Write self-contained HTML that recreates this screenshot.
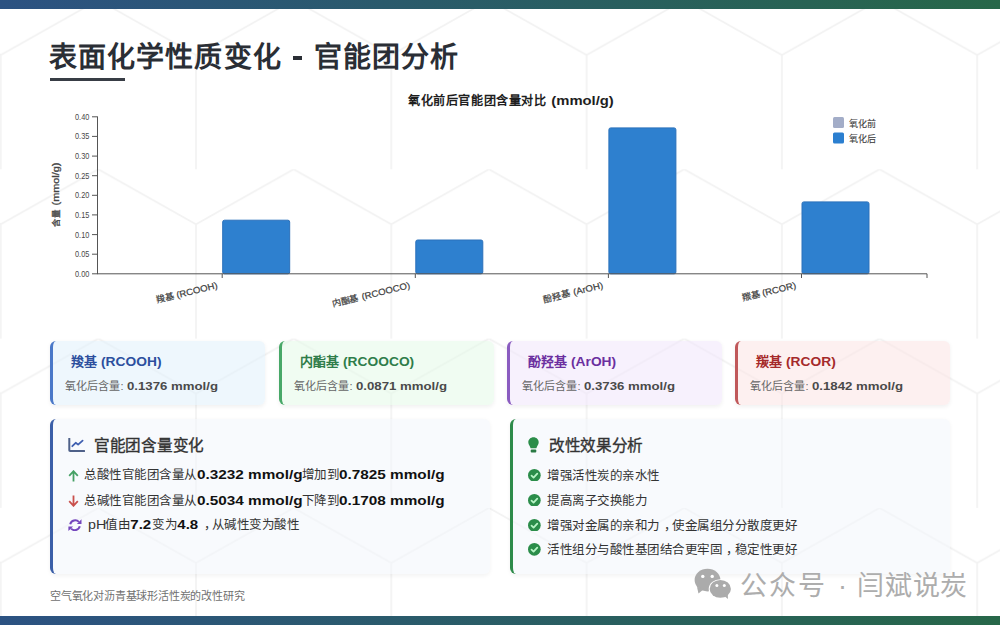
<!DOCTYPE html>
<html lang="zh-CN">
<head>
<meta charset="utf-8">
<style>
*{margin:0;padding:0;box-sizing:border-box;}
html,body{width:1000px;height:625px;overflow:hidden;background:#fff;}
body{position:relative;font-family:"Liberation Sans",sans-serif;color:#2d3748;}
.abs{position:absolute;}
#bg{position:absolute;left:0;top:0;width:1000px;height:625px;}
.bar{position:absolute;left:0;width:1000px;background:linear-gradient(90deg,#2c5282,#276749);}
h1{position:absolute;left:50px;top:37.5px;font-size:28px;font-weight:700;color:#2a2e35;white-space:nowrap;line-height:40px;}
.uline{position:absolute;left:50px;top:78px;width:75px;height:3px;background:#383d45;}
.card{position:absolute;top:340.7px;width:215px;height:64.5px;border-radius:6px;border-left:3.3px solid;box-shadow:0 1.5px 4px rgba(0,0,0,0.06);}
.sx{display:inline-block;transform-origin:0 50%;}
.card .t{position:absolute;left:18.3px;top:12px;font-size:13px;font-weight:700;white-space:nowrap;line-height:18px;}
.card .v{position:absolute;left:12.65px;top:37px;font-size:11px;color:#666;white-space:nowrap;line-height:16px;}
.card .v b{color:#4a4a4a;}
.panel{position:absolute;top:418.7px;width:440.5px;height:155.5px;border-radius:6px;border-left:3.3px solid;box-shadow:0 1.5px 4px rgba(0,0,0,0.05);background:rgba(242,246,251,0.55);}
.panel h2{position:absolute;left:41.3px;top:16px;font-size:15.6px;letter-spacing:-0.3px;font-weight:400;-webkit-text-stroke:0.35px #333;color:#333;white-space:nowrap;line-height:22px;}
.row{position:absolute;font-size:12.5px;letter-spacing:-0.5px;color:#333;white-space:nowrap;line-height:18px;}
.row b{font-weight:700;color:#111;}
.nb{display:inline-block;letter-spacing:0;}
.cm{display:inline-block;width:12.5px;padding-left:4.2px;}
.foot{position:absolute;left:50px;top:588px;font-size:11px;letter-spacing:-0.2px;color:#707070;white-space:nowrap;line-height:16px;}
.wm{position:absolute;top:569px;font-size:27px;color:#adadad;white-space:nowrap;line-height:34px;}
</style>
</head>
<body>
<svg id="bg" width="1000" height="625">
<defs>
<pattern id="hex" x="0.7" y="0" width="195.3" height="169.3" patternUnits="userSpaceOnUse">
<path d="M0,55 L97.65,0 L195.3,55 M0,55 L0,172 M195.3,55 L195.3,172" fill="none" stroke="#f2f2f2" stroke-width="1.7"/>
</pattern>
</defs>
<rect width="1000" height="625" fill="url(#hex)"/>
</svg>

<div class="bar" style="top:0;height:9px;"></div>
<div class="bar" style="top:616px;height:9px;"></div>

<h1><span class="abs" style="left:-1px;letter-spacing:1.1px">表面化学性质变化</span><span class="abs" style="left:263.5px;letter-spacing:1.1px">官能团分析</span></h1>
<div class="uline"></div>
<div class="abs" style="left:292.5px;top:56px;width:9.3px;height:3.8px;background:#2a2e35;"></div>

<!-- chart -->
<svg class="abs" style="left:0;top:0" width="1000" height="330" font-family="Liberation Sans, sans-serif">
<text x="408" y="104.5" font-size="12.5" font-weight="700" fill="#1e1e1e" textLength="138.5" lengthAdjust="spacingAndGlyphs">氧化前后官能团含量对比</text>
<text x="551.3" y="104.5" font-size="12.5" font-weight="700" fill="#1e1e1e" textLength="62.5" lengthAdjust="spacingAndGlyphs">(mmol/g)</text>
<g font-size="8.5" fill="#484848">
<text x="75" y="119.85" textLength="14.3" lengthAdjust="spacingAndGlyphs">0.40</text>
<text x="75" y="139.48" textLength="14.3" lengthAdjust="spacingAndGlyphs">0.35</text>
<text x="75" y="159.10" textLength="14.3" lengthAdjust="spacingAndGlyphs">0.30</text>
<text x="75" y="178.73" textLength="14.3" lengthAdjust="spacingAndGlyphs">0.25</text>
<text x="75" y="198.35" textLength="14.3" lengthAdjust="spacingAndGlyphs">0.20</text>
<text x="75" y="217.98" textLength="14.3" lengthAdjust="spacingAndGlyphs">0.15</text>
<text x="75" y="237.60" textLength="14.3" lengthAdjust="spacingAndGlyphs">0.10</text>
<text x="75" y="257.23" textLength="14.3" lengthAdjust="spacingAndGlyphs">0.05</text>
<text x="75" y="276.85" textLength="14.3" lengthAdjust="spacingAndGlyphs">0.00</text>
</g>
<g fill="#2e80cf" stroke="#2a70bb" stroke-width="1">
<rect x="222.7" y="220.2" width="67" height="53.6" rx="1.8"/>
<rect x="415.8" y="240" width="67" height="33.8" rx="1.8"/>
<rect x="608.9" y="127.9" width="67" height="145.9" rx="1.8"/>
<rect x="802" y="201.9" width="67" height="71.9" rx="1.8"/>
</g>
<g stroke="#555" stroke-width="1">
<path d="M97.5,116.5 V274 M92,116.8 H97.5 M92,136.4 H97.5 M92,156.1 H97.5 M92,175.7 H97.5 M92,195.3 H97.5 M92,214.9 H97.5 M92,234.6 H97.5 M92,254.2 H97.5 M92,273.8 H97.5"/>
<path d="M97,273.8 H927 M222.2,273.8 V278 M415.3,273.8 V278 M608.4,273.8 V278 M801.5,273.8 V278 M927,273.8 V278"/>
</g>
<g transform="translate(58.8,162.5) rotate(-90)" font-size="8.5" fill="#444" stroke="#444" stroke-width="0.3">
<text x="-64" y="0">含量</text>
<text x="-43" y="0" textLength="43" lengthAdjust="spacingAndGlyphs">(mmol/g)</text>
</g>
<g font-size="9" fill="#3c3c3c" stroke="#3c3c3c" stroke-width="0.2">
<g transform="translate(218,288) rotate(-14)"><text x="-42" y="0" textLength="42" lengthAdjust="spacingAndGlyphs">(RCOOH)</text><text x="-63" y="0">羧基</text></g>
<g transform="translate(410.5,288) rotate(-14)"><text x="-49.5" y="0" textLength="49.5" lengthAdjust="spacingAndGlyphs">(RCOOCO)</text><text x="-80" y="0">内酯基</text></g>
<g transform="translate(603.5,288) rotate(-14)"><text x="-30.5" y="0" textLength="30.5" lengthAdjust="spacingAndGlyphs">(ArOH)</text><text x="-61" y="0">酚羟基</text></g>
<g transform="translate(796.5,288) rotate(-14)"><text x="-34.5" y="0" textLength="34.5" lengthAdjust="spacingAndGlyphs">(RCOR)</text><text x="-55" y="0">羰基</text></g>
</g>
<rect x="833" y="117" width="11" height="11" rx="1.5" fill="#a3adc8"/>
<rect x="833" y="132.6" width="11" height="11" rx="1.5" fill="#2b7fd0"/>
<g font-size="9" fill="#404040" stroke="#404040" stroke-width="0.1">
<text x="849" y="126.5">氧化前</text>
<text x="849" y="142">氧化后</text>
</g>
</svg>

<!-- cards -->
<div class="card" style="left:49.75px;background:rgba(222,240,252,0.5);border-color:#4a78c8;">
<div class="t" style="color:#2c4f9e;">羧基 <span class="sx" style="transform:scaleX(1.06)">(RCOOH)</span></div>
<div class="v">氧化后含量: <b class="sx" style="transform:scaleX(1.2)">0.1376 mmol/g</b></div>
</div>
<div class="card" style="left:278.8px;background:rgba(225,250,230,0.5);border-color:#48a868;">
<div class="t" style="color:#2f7d4a;">内酯基 <span class="sx" style="transform:scaleX(1.06)">(RCOOCO)</span></div>
<div class="v">氧化后含量: <b class="sx" style="transform:scaleX(1.2)">0.0871 mmol/g</b></div>
</div>
<div class="card" style="left:506.75px;background:rgba(240,228,252,0.5);border-color:#8a5cc0;">
<div class="t" style="color:#6b2fa0;">酚羟基 <span class="sx" style="transform:scaleX(1.06)">(ArOH)</span></div>
<div class="v">氧化后含量: <b class="sx" style="transform:scaleX(1.2)">0.3736 mmol/g</b></div>
</div>
<div class="card" style="left:734.75px;background:rgba(252,226,226,0.5);border-color:#c0585a;">
<div class="t" style="color:#a52a2a;">羰基 <span class="sx" style="transform:scaleX(1.06)">(RCOR)</span></div>
<div class="v">氧化后含量: <b class="sx" style="transform:scaleX(1.2)">0.1842 mmol/g</b></div>
</div>

<!-- panels -->
<div class="panel" style="left:49.75px;border-color:#3b5fa8;">
<svg class="abs" style="left:15.5px;top:19px" width="17" height="14" viewBox="0 0 17 14"><path d="M1.3,0.4 V12.2 Q1.3,13 2.1,13 H16.2" fill="none" stroke="#4f6189" stroke-width="2" stroke-linecap="round"/><path d="M4.3,8.2 L7.7,4.8 L10.1,6.6 L14.6,2.6" fill="none" stroke="#3f5fb0" stroke-width="1.8" stroke-linejoin="round" stroke-linecap="round"/></svg>
<h2>官能团含量变化</h2>
</div>
<div class="panel" style="left:509.5px;border-color:#2e8b4a;">
<svg class="abs" style="left:15.6px;top:18px" width="11" height="16" viewBox="0 0 11 16"><path d="M5.5,0.3 C2.6,0.3 0.3,2.5 0.3,5.3 C0.3,7.8 2.1,9 2.6,11.3 H8.4 C8.9,9 10.7,7.8 10.7,5.3 C10.7,2.5 8.4,0.3 5.5,0.3 Z" fill="#2b8d49"/><rect x="2.7" y="12.4" width="5.6" height="3" rx="1" fill="#2a7a44"/></svg>
<h2 style="left:36.4px">改性效果分析</h2>
</div>
<!-- panel 1 rows -->
<svg class="abs" style="left:67.5px;top:469.5px" width="11" height="12" viewBox="0 0 11 12"><path d="M5.5,11.5 V1.5 M1.2,5.8 L5.5,1.2 L9.8,5.8" fill="none" stroke="#45a064" stroke-width="1.8"/></svg>
<div class="row" style="left:84px;top:466.4px;">总酸性官能团含量从<b class="nb" style="width:105px"><span class="sx" style="transform:scaleX(1.225)">0.3232 mmol/g</span></b>增加到<b class="nb" style="width:105px"><span class="sx" style="transform:scaleX(1.225)">0.7825 mmol/g</span></b></div>
<svg class="abs" style="left:67.5px;top:494.5px" width="11" height="12" viewBox="0 0 11 12"><path d="M5.5,0.5 V10.5 M1.2,6.2 L5.5,10.8 L9.8,6.2" fill="none" stroke="#c9504c" stroke-width="1.8"/></svg>
<div class="row" style="left:84px;top:491.5px;">总碱性官能团含量从<b class="nb" style="width:105px"><span class="sx" style="transform:scaleX(1.225)">0.5034 mmol/g</span></b>下降到<b class="nb" style="width:105px"><span class="sx" style="transform:scaleX(1.225)">0.1708 mmol/g</span></b></div>
<svg class="abs" style="left:67.9px;top:518.8px" width="14" height="12.5" viewBox="0 0 14 12.5"><path d="M2.2,5.2 A5.2,5.2 0 0 1 10.9,2.9 M11.8,7.3 A5.2,5.2 0 0 1 3.1,9.6" fill="none" stroke="#7446bd" stroke-width="2"/><path d="M8.9,4.9 L13.5,4.9 L13.5,0.2 Z M5.1,7.4 L0.4,7.4 L0.4,12 Z" fill="#7446bd"/></svg>
<div class="row" style="left:88px;top:516px;"><span class="nb" style="width:17.4px"><span class="sx" style="transform:scaleX(1.14)">pH</span></span>值由<b class="nb" style="width:22px"><span class="sx" style="transform:scaleX(1.2);padding-left:0.3px">7.2</span></b>变为<b class="nb" style="width:22px"><span class="sx" style="transform:scaleX(1.2);padding-left:0.3px">4.8</span></b><span class="cm">，</span>从碱性变为酸性</div>
<!-- panel 2 rows -->
<svg class="abs" style="left:528.3px;top:468.6px" width="12.7" height="12.7" viewBox="0 0 13 13"><circle cx="6.5" cy="6.5" r="6.5" fill="#2b8d4a"/><path d="M3.6,6.8 L5.7,8.8 L9.5,4.7" fill="none" stroke="#b8f5c6" stroke-width="1.8" stroke-linecap="round" stroke-linejoin="round"/></svg>
<div class="row" style="left:547px;top:466.5px;">增强活性炭的亲水性</div>
<svg class="abs" style="left:528.3px;top:493.5px" width="12.7" height="12.7" viewBox="0 0 13 13"><circle cx="6.5" cy="6.5" r="6.5" fill="#2b8d4a"/><path d="M3.6,6.8 L5.7,8.8 L9.5,4.7" fill="none" stroke="#b8f5c6" stroke-width="1.8" stroke-linecap="round" stroke-linejoin="round"/></svg>
<div class="row" style="left:547px;top:491.5px;">提高离子交换能力</div>
<svg class="abs" style="left:528.3px;top:518.5px" width="12.7" height="12.7" viewBox="0 0 13 13"><circle cx="6.5" cy="6.5" r="6.5" fill="#2b8d4a"/><path d="M3.6,6.8 L5.7,8.8 L9.5,4.7" fill="none" stroke="#b8f5c6" stroke-width="1.8" stroke-linecap="round" stroke-linejoin="round"/></svg>
<div class="row" style="left:547px;top:516.5px;">增强对金属的亲和力<span class="cm">，</span>使金属组分分散度更好</div>
<svg class="abs" style="left:528.3px;top:543.2px" width="12.7" height="12.7" viewBox="0 0 13 13"><circle cx="6.5" cy="6.5" r="6.5" fill="#2b8d4a"/><path d="M3.6,6.8 L5.7,8.8 L9.5,4.7" fill="none" stroke="#b8f5c6" stroke-width="1.8" stroke-linecap="round" stroke-linejoin="round"/></svg>
<div class="row" style="left:547px;top:541.2px;">活性组分与酸性基团结合更牢固<span class="cm">，</span>稳定性更好</div>

<div class="foot">空气氧化对沥青基球形活性炭的改性研究</div>
<svg class="abs" style="left:0;top:0" width="1000" height="625">
<g fill="#ababab">
<ellipse cx="707.5" cy="580.1" rx="12.9" ry="11.3"/>
<path d="M697,587 L698.5,593.5 L704,589 Z"/>
</g>
<circle cx="702.8" cy="576.4" r="1.7" fill="#fff"/>
<circle cx="712.2" cy="576.4" r="1.7" fill="#fff"/>
<ellipse cx="720.3" cy="588.9" rx="11.6" ry="9.7" fill="#fff"/>
<g fill="#ababab">
<ellipse cx="720.3" cy="588.9" rx="10.6" ry="8.9"/>
<path d="M723,595 L728,599 L727.5,592 Z"/>
</g>
<circle cx="716.9" cy="585.5" r="1.5" fill="#fff"/>
<circle cx="724.3" cy="585.5" r="1.5" fill="#fff"/>
</svg>
<div class="wm" style="left:740px;letter-spacing:2.2px">公众号</div>
<div class="wm" style="left:838px">·</div>
<div class="wm" style="left:857px;letter-spacing:0.8px">闫斌说炭</div>
</body>
</html>
